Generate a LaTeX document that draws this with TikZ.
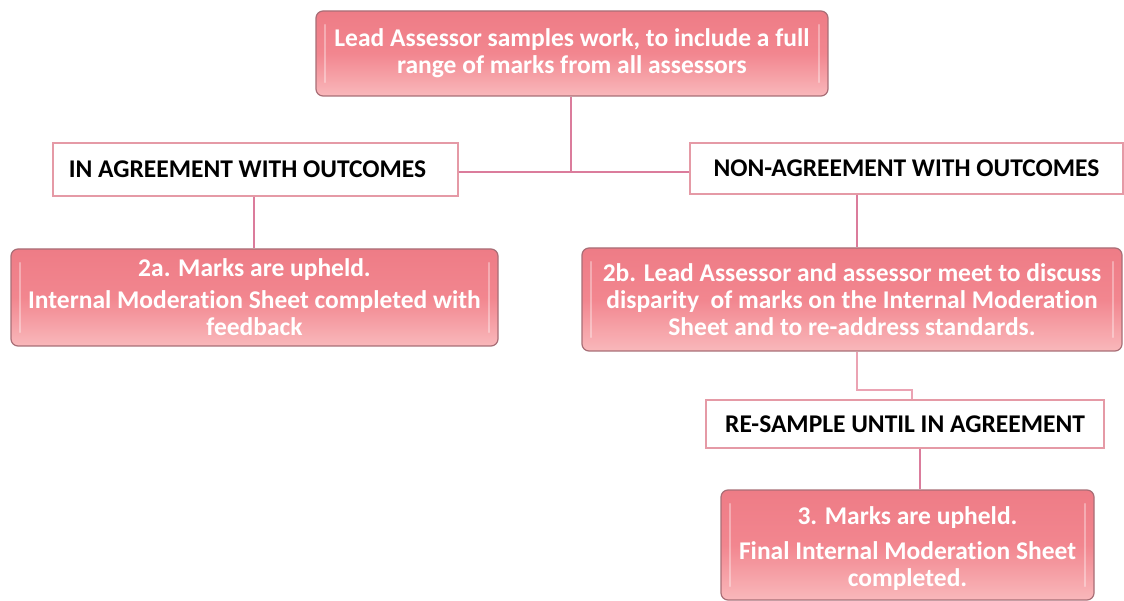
\documentclass[tikz,border=0pt]{standalone}
\usepackage{fontspec}
\setmainfont{Carlito}[Ligatures={NoCommon}]
\usetikzlibrary{calc}
\definecolor{boxtop}{HTML}{EE7C86}
\definecolor{boxmid}{HTML}{F2868F}
\definecolor{boxbot}{HTML}{F9B8BB}
\definecolor{boxedge}{HTML}{A86E76}
\definecolor{lbledge}{HTML}{E59AA6}
\definecolor{conn}{HTML}{DB7C9C}
\definecolor{connlight}{HTML}{EBA3B3}
\tikzset{
  pinkbox/.style={rectangle, rounded corners=7pt, draw=boxedge, line width=1.2pt,
    top color=boxtop, bottom color=boxbot, middle color=boxmid, shading angle=0,
    text=white, font=\fontsize{25.5}{27}\selectfont\bfseries, align=center, inner sep=0pt,
    path picture={
      \draw[white, opacity=0.35, line width=2.2pt, line cap=round]
        ([xshift=9pt,yshift=-14pt]path picture bounding box.north west) --
        ([xshift=9pt,yshift=14pt]path picture bounding box.south west);
      \draw[white, opacity=0.35, line width=2.2pt, line cap=round]
        ([xshift=-9pt,yshift=-14pt]path picture bounding box.north east) --
        ([xshift=-9pt,yshift=14pt]path picture bounding box.south east);
    }},
  boxtext/.style={text=white, font=\fontsize{25.5}{27}\selectfont\bfseries, align=center, inner sep=0pt},
  lblbox/.style={rectangle, draw=lbledge, line width=1.3pt, fill=white,
    text=black, font=\fontsize{25.5}{27}\selectfont\bfseries, align=center, inner sep=0pt},
  conline/.style={draw=conn, line width=2.2pt},
  thinline/.style={draw=connlight, line width=1.4pt},
}
\begin{document}
\begin{tikzpicture}[x=1pt,y=-1pt]
\useasboundingbox (0,0) rectangle (1124,601);
% nodes
\node[pinkbox, minimum width=512pt, minimum height=85pt] (top) at (572,53.5)
  {Lead Assessor samples work, to include a full\\range of marks from all assessors};
\node[lblbox, minimum width=405pt, minimum height=53pt] (ag) at (255.5,169.5)
  {\hspace*{-8pt}IN AGREEMENT WITH OUTCOMES\hspace*{8pt}};
\node[lblbox, minimum width=433pt, minimum height=51pt] (nag) at (906.5,168.5)
  {NON-AGREEMENT WITH OUTCOMES};
\node[pinkbox, minimum width=487pt, minimum height=97pt] (a2) at (254.5,297.5)
  {2a. Marks are upheld.\\[5pt]Internal Moderation Sheet completed with\\feedback};
\node[pinkbox, minimum width=540pt, minimum height=103pt] (b2) at (852,299.5)
  {2b. Lead Assessor and assessor meet to discuss\\disparity\ \ of marks on the Internal Moderation\\Sheet and to re-address standards.};
\node[lblbox, minimum width=398pt, minimum height=48pt] (rs) at (905,424)
  {RE-SAMPLE UNTIL IN AGREEMENT};
\node[pinkbox, minimum width=373pt, minimum height=110pt] (c3) at (907.5,545) {};
\node[boxtext] (c3t) at ($(c3.center)+(0,4)$)
  {3. Marks are upheld.\\[8pt]Final Internal Moderation Sheet\\completed.};
% coordinates
\coordinate (j) at (571,172);
\coordinate (xl) at (254,0);
\coordinate (xr) at (857,0);
\coordinate (bend) at (912,390);
\coordinate (xc) at (920,0);
% connectors
\draw[conline] (top.south -| j) -- (j);
\draw[conline] (ag.east |- j) -- (nag.west |- j);
\draw[conline] (ag.south -| xl) -- (a2.north -| xl);
\draw[conline] (nag.south -| xr) -- (b2.north -| xr);
\draw[thinline] (b2.south -| xr) |- (bend) -- (rs.north -| bend);
\draw[conline] (rs.south -| xc) -- (c3.north -| xc);
\end{tikzpicture}
\end{document}
